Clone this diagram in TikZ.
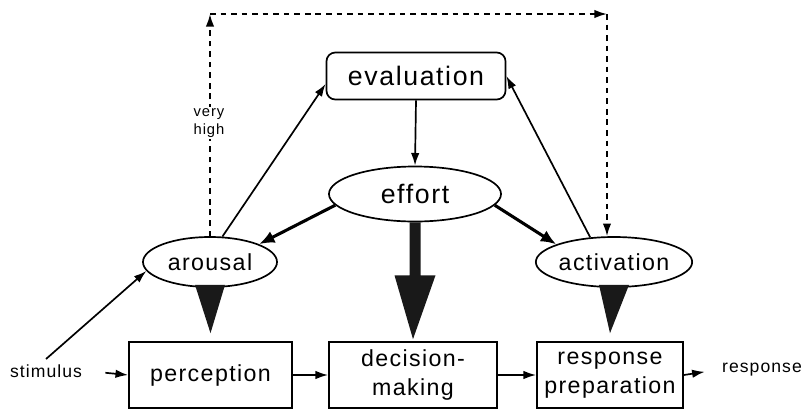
\documentclass[tikz,border=0pt]{standalone}
\usepackage{fontspec}
\usepackage{tikz}
\usetikzlibrary{arrows.meta,calc,shapes.geometric}
\newfontfamily\diagfont[LetterSpace=6]{Liberation Sans}

\begin{document}
\begin{tikzpicture}[x=0.025cm,y=-0.025cm,
    line width=1.2pt,
    >={Latex[length=9pt,width=6pt]},
    bigtext/.style={font=\diagfont\fontsize{19}{22}\selectfont},
    midtext/.style={font=\diagfont\fontsize{16.5}{20.5}\selectfont},
    smalltext/.style={font=\diagfont\fontsize{12.5}{14}\selectfont},
    stagebox/.style={draw,midtext,align=center,minimum height=1.65cm,inner sep=0pt},
    stateoval/.style={draw,ellipse,midtext,inner sep=0pt,minimum height=1.25cm},
    fbline/.style={dash pattern=on 4pt off 3.5pt},
    bigarrow/.style={line width=2.2pt,-{Latex[length=11pt,width=9pt]}},
    fatfill/.style={fill=black!90}]

    \useasboundingbox (0,0) rectangle (803,410);

 % Nodes
    \node[draw,rounded corners=0.22cm,bigtext,minimum width=4.475cm,minimum height=1.175cm] (evaluation) at (416,76) {evaluation};
    \node[draw,ellipse,bigtext,inner sep=0pt,minimum width=4.3cm,minimum height=1.375cm] (effort) at (415,194) {effort};
    \node[stateoval,minimum width=3.35cm] (arousal) at (210,262) {arousal};
    \node[stateoval,minimum width=3.9cm] (activation) at (614,262) {activation};

    \node[stagebox,minimum width=4.075cm] (perception) at (210.5,375) {perception};
    \node[stagebox,minimum width=4.2cm] (decision) at (413,375) {decision-\\making};
    \node[stagebox,minimum width=3.65cm] (prep) at (610,375) {response\\preparation};

    \node[smalltext] (stimulus) at (46,371) {stimulus};
    \node[smalltext] (response) at (762,370) {response};

 % Main chain
    \draw[->,shorten <=0.45cm] (stimulus.east) -- (perception.west);
    \draw[->] (perception.east) -- (decision.west);
    \draw[->] (decision.east) -- (prep.west);
    \draw[->,shorten >=0.3cm] (prep.east) -- (response.west);
    \draw[->] (stimulus.north) -- (arousal.188);

 % Links to and from evaluation
    \draw[->] (arousal.64) -- (evaluation.185);
    \draw[->] (activation.134) -- (evaluation.east);
    \draw[->] (evaluation.south) -- (effort.north);
    \draw[bigarrow] (effort.188) -- (arousal.20);
    \draw[bigarrow] (effort.352) -- (activation.163);

 % Fat arrows into the stages
    \fill[fatfill] ($(arousal.south)+(-15,-3)$) -- ($(arousal.south)+(15,-3)$) -- ($(perception.north)+(0,-8)$) -- cycle;
    \fill[fatfill] ($(activation.south)+(-15,-3)$) -- ($(activation.south)+(15,-3)$) -- ($(prep.north)+(0,-8)$) -- cycle;
    \fill[fatfill] ($(effort.south)+(-5.5,0)$) -- ++(0,53) -- ++(-15,0)
        -- ($(decision.north)+(0,-2)$) -- ($(effort.south)+(20.5,53)$) -- ++(-15,0)
        -- ($(effort.south)+(5.5,0)$) -- cycle;

 % Dashed feedback loop
    \coordinate (top) at (0,14);
    \coordinate (tl) at (arousal.north |- top);
    \coordinate (tr) at (607,14);
    \draw[fbline,->] (arousal.north) -- (tl);
    \draw[fbline,->] (tl) -- (tr);
    \draw[fbline,->] (tr) -- (tr |- activation.north);
    \node[smalltext,fill=white,align=center,inner sep=1pt,font=\diagfont\fontsize{10.5}{13}\selectfont] (veryhigh) at (209,123) {very\\high};

\end{tikzpicture}
\end{document}
